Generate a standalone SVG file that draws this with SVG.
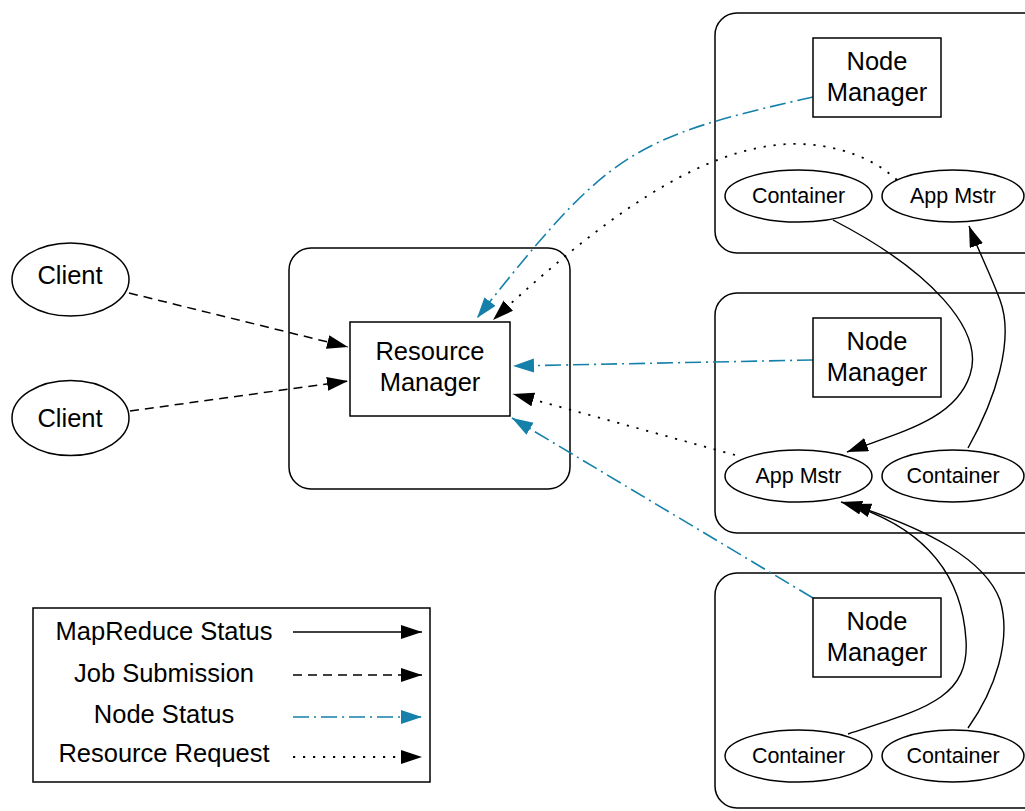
<svg xmlns="http://www.w3.org/2000/svg" width="1025" height="811" viewBox="0 0 1025 811">
  <style>
    text { font-family: "Liberation Sans", Arial, sans-serif; fill: #000; text-anchor: middle; }
    .big { font-size: 25.5px; }
    .small { font-size: 21.5px; }
    .legend { font-size: 25.5px; }
    .frame { fill: #fff; stroke: #000; stroke-width: 1.5; }
    .box { fill: #fff; stroke: #000; stroke-width: 1.5; }
    .oval { fill: #fff; stroke: #000; stroke-width: 1.5; }
    .status { fill: none; stroke: #000; stroke-width: 1.4; marker-end: url(#arrowBlack); }
    .job { fill: none; stroke: #000; stroke-width: 1.5; stroke-dasharray: 9 6; marker-end: url(#arrowBlack); }
    .node { fill: none; stroke: #1580aa; stroke-width: 1.6; stroke-dasharray: 16 5 2 5; marker-end: url(#arrowBlue); }
    .request { fill: none; stroke: #000; stroke-width: 1.8; stroke-dasharray: 2.2 7.8; marker-end: url(#arrowBlack); }
  </style>
  <defs>
    <marker id="arrowBlack" markerUnits="userSpaceOnUse" markerWidth="22" markerHeight="15" refX="21" refY="7" orient="auto">
      <path d="M0,0 L21,7 L0,14 Z" fill="#000"/>
    </marker>
    <marker id="arrowBlue" markerUnits="userSpaceOnUse" markerWidth="22" markerHeight="15" refX="21" refY="7" orient="auto">
      <path d="M0,0 L21,7 L0,14 Z" fill="#1580aa"/>
    </marker>
  </defs>

  <rect width="1025" height="811" fill="#fff"/>

  <!-- cluster frames -->
  <g id="rm-host">
    <rect class="frame" x="289" y="248" width="281" height="241" rx="22"/>
  </g>
  <g id="host-1">
    <rect class="frame" x="715" y="13" width="330" height="240" rx="22"/>
  </g>
  <g id="host-2">
    <rect class="frame" x="715" y="293" width="330" height="240" rx="22"/>
  </g>
  <g id="host-3">
    <rect class="frame" x="715" y="573" width="330" height="235" rx="22"/>
  </g>

  <!-- connectors -->
  <g id="connectors">
    <!-- job submission -->
    <path class="job" d="M129,293 L348,347"/>
    <path class="job" d="M130,411 L348,381"/>
    <!-- node status -->
    <path class="node" d="M813,97 C630,138 608,152 477,318"/>
    <path class="node" d="M813,360 L513,366"/>
    <path class="node" d="M813,598 L512,418"/>
    <!-- resource requests -->
    <path class="request" d="M897,180 C870,155 830,143 790,144 C700,147 600,220 493,320"/>
    <path class="request" d="M735,455 L513,394"/>
    <!-- mapreduce status -->
    <path class="status" d="M833,220 C930,270 985,330 970,375 C955,420 900,432 847,452"/>
    <path class="status" d="M968,448 C995,400 1015,340 1000,300 C990,273 978,250 969,226"/>
    <path class="status" d="M848,734 C920,710 970,700 966,640 C963,590 940,530 841,502"/>
    <path class="status" d="M968,728 C995,690 1012,640 1000,600 C985,560 930,530 850,504"/>
  </g>

  <!-- clients -->
  <g id="client-1">
    <ellipse class="oval" cx="70.5" cy="279.5" rx="58.5" ry="36.5"/>
    <text class="big" x="70" y="284">Client</text>
  </g>
  <g id="client-2">
    <ellipse class="oval" cx="70.5" cy="418" rx="58.5" ry="37.5"/>
    <text class="big" x="70" y="427">Client</text>
  </g>

  <!-- resource manager -->
  <g id="resource-manager">
    <rect class="box" x="350" y="322" width="160" height="94"/>
    <text class="big" x="430" y="360">Resource</text>
    <text class="big" x="430" y="391">Manager</text>
  </g>

  <!-- host 1 -->
  <g id="node-manager-1">
    <rect class="box" x="813" y="38" width="128" height="79"/>
    <text class="big" x="877" y="70">Node</text>
    <text class="big" x="877" y="101">Manager</text>
  </g>
  <g id="container-1a">
    <ellipse class="oval" cx="798.5" cy="196" rx="73.5" ry="26"/>
    <text class="small" x="798.5" y="203">Container</text>
  </g>
  <g id="app-master-1">
    <ellipse class="oval" cx="953" cy="196" rx="71" ry="26"/>
    <text class="small" x="953" y="203">App Mstr</text>
  </g>

  <!-- host 2 -->
  <g id="node-manager-2">
    <rect class="box" x="813" y="318" width="128" height="79"/>
    <text class="big" x="877" y="350">Node</text>
    <text class="big" x="877" y="381">Manager</text>
  </g>
  <g id="app-master-2">
    <ellipse class="oval" cx="798.5" cy="476" rx="73.5" ry="26"/>
    <text class="small" x="798.5" y="483">App Mstr</text>
  </g>
  <g id="container-2a">
    <ellipse class="oval" cx="953" cy="476" rx="71" ry="26"/>
    <text class="small" x="953" y="483">Container</text>
  </g>

  <!-- host 3 -->
  <g id="node-manager-3">
    <rect class="box" x="813" y="598" width="128" height="79"/>
    <text class="big" x="877" y="630">Node</text>
    <text class="big" x="877" y="661">Manager</text>
  </g>
  <g id="container-3a">
    <ellipse class="oval" cx="798.5" cy="756" rx="73.5" ry="26"/>
    <text class="small" x="798.5" y="763">Container</text>
  </g>
  <g id="container-3b">
    <ellipse class="oval" cx="953" cy="756" rx="71" ry="26"/>
    <text class="small" x="953" y="763">Container</text>
  </g>

  <!-- legend -->
  <g id="legend">
    <rect class="box" x="33" y="608" width="397" height="174"/>
    <text class="legend" x="164" y="640">MapReduce Status</text>
    <text class="legend" x="164" y="682">Job Submission</text>
    <text class="legend" x="164" y="723">Node Status</text>
    <text class="legend" x="164" y="762">Resource Request</text>
    <path class="status" d="M293,632 L422,632"/>
    <path class="job" d="M293,675 L422,675"/>
    <path class="node" d="M293,717 L422,717"/>
    <path class="request" d="M293,757 L422,757"/>
  </g>
</svg>
